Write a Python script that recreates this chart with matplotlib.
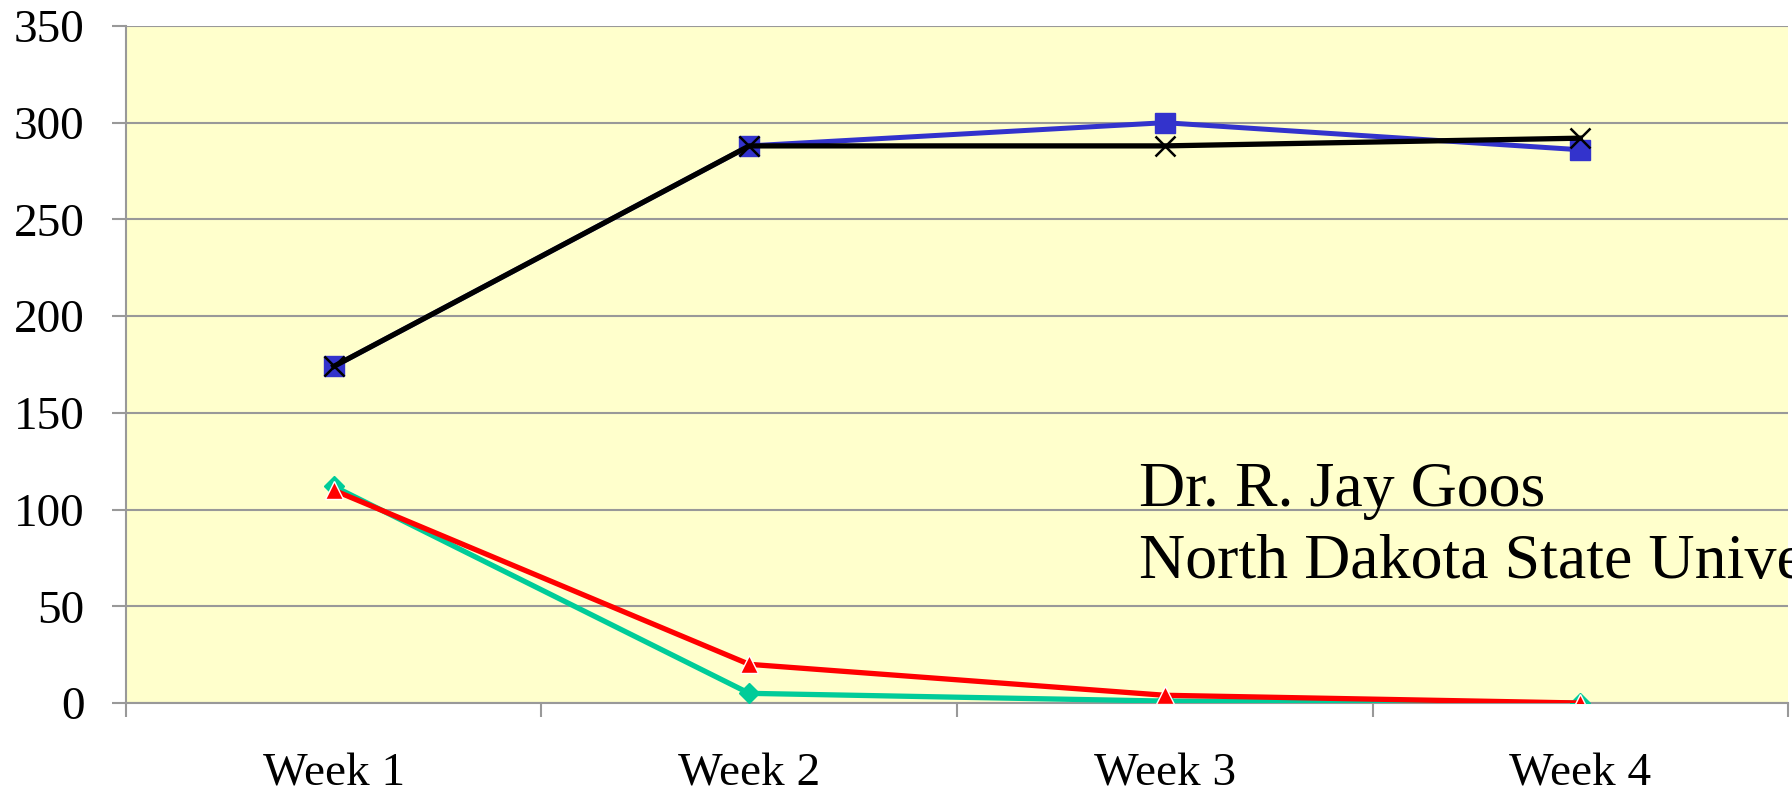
import numpy as np
import matplotlib
matplotlib.use("Agg")
import matplotlib.pyplot as plt

weeks = ["Week 1", "Week 2", "Week 3", "Week 4"]
blue_sq = [174, 288, 300, 286]
black_x = [174, 288, 288, 292]
green_dia = [112, 5, 1, 0]
red_tri = [110, 20, 4, 0]

plt.rcParams["font.family"] = "Liberation Serif"

fig = plt.figure(figsize=(17.92, 7.94), dpi=100)
ax = fig.add_axes([0.0703, 0.1146, 0.9275, 0.8527])
ax.set_facecolor("#FFFFCC")

x = np.arange(len(weeks))

ax.plot(x, blue_sq, color="#3333CC", lw=3.6, marker="s", markersize=14,
        markeredgecolor="#3333CC", zorder=3)
ax.plot(x, black_x, color="black", lw=3.8, marker="x", markersize=14,
        markeredgewidth=1.8, zorder=4)
ax.plot(x, green_dia, color="#00CC99", lw=3.8, marker="D", markersize=10,
        zorder=5)
ax.plot(x, red_tri, color="#FF0000", lw=3.8, marker="^", markersize=13,
        markeredgecolor="white", markeredgewidth=1.0, zorder=6)

ax.set_xlim(-0.5, 3.5)
ax.set_ylim(0, 350)
ax.set_yticks(np.arange(0, 351, 50))
ax.yaxis.grid(True, color="#999999", lw=1.5)
ax.set_axisbelow(True)

ax.set_xticks(x)
ax.set_xticklabels(weeks)
ax.set_xticks(np.arange(-0.5, 3.6, 1), minor=True)
ax.tick_params(axis="x", which="major", length=0, pad=36, labelsize=34)
ax.tick_params(axis="x", which="minor", length=10, width=1.5, color="#999999")
ax.tick_params(axis="y", length=10, width=1.5, color="#999999", pad=20,
               labelsize=34)

for s in ["top", "right"]:
    ax.spines[s].set_visible(False)
for s in ["left", "bottom"]:
    ax.spines[s].set_color("#999999")
    ax.spines[s].set_linewidth(1.5)

# credit text runs off the right edge, as in the original slide
ax.text(0.6095, 0.26, "Dr. R. Jay Goos\nNorth Dakota State University",
        transform=ax.transAxes, fontsize=46, va="center", ha="left",
        linespacing=1.33, clip_on=False, zorder=10)

fig.savefig("out.png", dpi=100)
